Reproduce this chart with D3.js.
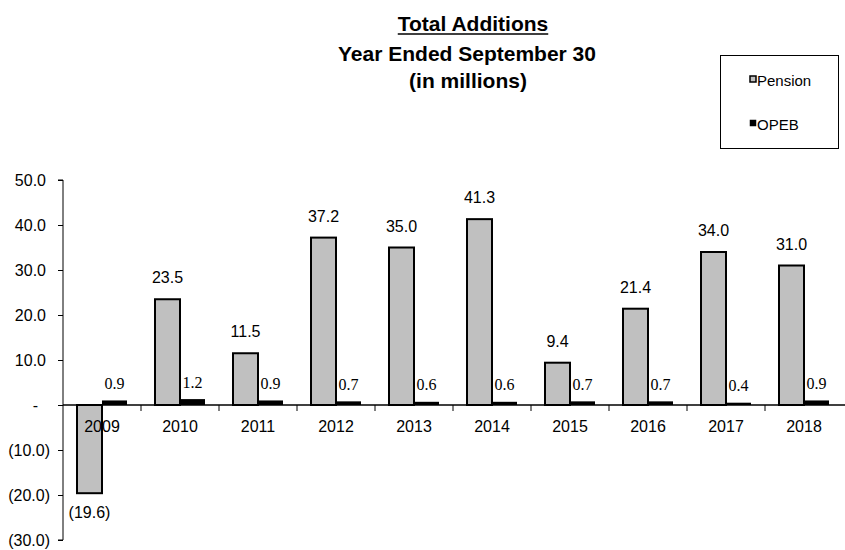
<!DOCTYPE html>
<html>
<head>
<meta charset="utf-8">
<script src="https://cdn.jsdelivr.net/npm/d3@7/dist/d3.min.js"></script>
<style>
  body { margin: 0; background: #fff; }
  svg { display: block; }
  text { font-family: "Liberation Sans", Arial, sans-serif; fill: #000; }
</style>
</head>
<body>
<svg id="chart" width="845" height="550"></svg>
<script>
const years = ["2009","2010","2011","2012","2013","2014","2015","2016","2017","2018"];
const pension = [-19.6, 23.5, 11.5, 37.2, 35.0, 41.3, 9.4, 21.4, 34.0, 31.0];
const opeb = [0.9, 1.2, 0.9, 0.7, 0.6, 0.6, 0.7, 0.7, 0.4, 0.9];
const yTicks = [50, 40, 30, 20, 10, 0, -10, -20, -30];
const seriesNames = ["Pension", "OPEB"];
const titleLines = ["Total Additions", "Year Ended September 30", "(in millions)"];

const svg = d3.select("#chart");
const mLeft = 63, mRight = 843, mTop = 180, mBottom = 540;

const x = d3.scaleBand().domain(years).range([mLeft, mRight]).paddingInner(0).paddingOuter(0);
const y = d3.scaleLinear().domain([-30, 50]).range([mBottom, mTop]);

const fmt = v => v === 0 ? "-" : (v < 0 ? "(" + d3.format(".1f")(-v) + ")" : d3.format(".1f")(v));

const inner = 14;
const bw = (x.bandwidth() - 2 * inner) / 2;

// Y axis
const yAxis = svg.append("g").attr("transform", `translate(${mLeft},0)`)
  .call(d3.axisLeft(y).tickValues(yTicks).tickSize(5).tickPadding(8).tickFormat(fmt));
yAxis.select(".domain").attr("stroke", "#000").attr("stroke-width", 1).attr("d", `M-5,${mTop}H0V${mBottom}H-5`);
yAxis.selectAll(".tick line").attr("stroke", "#000");
yAxis.selectAll(".tick text").attr("font-size", 16).attr("font-family", "Liberation Sans, Arial, sans-serif").attr("fill", "#000");
yAxis.selectAll(".tick").filter(d => d > 0).select("text").attr("x", -17);
yAxis.selectAll(".tick").filter(d => d === 0).select("text").attr("x", -25);

// Pension bars
svg.append("g").selectAll("rect").data(years).join("rect")
  .attr("x", (d) => x(d) + inner)
  .attr("y", (d, i) => y(Math.max(0, pension[i])))
  .attr("width", bw)
  .attr("height", (d, i) => Math.abs(y(pension[i]) - y(0)))
  .attr("fill", "#c0c0c0").attr("stroke", "#000").attr("stroke-width", 2);

// OPEB bars
svg.append("g").selectAll("rect").data(years).join("rect")
  .attr("x", (d) => x(d) + inner + bw)
  .attr("y", (d, i) => y(opeb[i]) - 0.5)
  .attr("width", bw)
  .attr("height", (d, i) => y(0) - y(opeb[i]) + 0.5)
  .attr("fill", "#000");

// X axis
const xAxis = svg.append("g").attr("transform", `translate(0,${y(0)})`);
xAxis.append("line").attr("x1", mLeft).attr("x2", 845).attr("stroke", "#000").attr("stroke-width", 1.5);
xAxis.selectAll("line.tk").data(years.slice(1)).join("line").attr("class", "tk")
  .attr("x1", d => x(d)).attr("x2", d => x(d)).attr("y1", 0).attr("y2", 6).attr("stroke", "#000");
xAxis.selectAll("text").data(years).join("text")
  .attr("x", d => x(d) + x.bandwidth() / 2).attr("y", 27)
  .attr("text-anchor", "middle").attr("font-size", 16).text(d => d);

// Pension labels
svg.append("g").selectAll("text").data(years).join("text")
  .attr("x", d => x(d) + inner + bw / 2)
  .attr("y", (d, i) => pension[i] >= 0 ? y(pension[i]) - 16 : y(pension[i]) + 25)
  .attr("text-anchor", "middle").attr("font-size", 16)
  .text((d, i) => fmt(pension[i]));

// OPEB labels
svg.append("g").selectAll("text").data(years).join("text")
  .attr("x", d => x(d) + inner + bw * 1.5)
  .attr("y", (d, i) => y(opeb[i]) - 12)
  .attr("text-anchor", "middle").attr("font-size", 16)
  .style("font-family", "'Liberation Serif', 'Times New Roman', serif")
  .text((d, i) => d3.format(".1f")(opeb[i]));

// Title
const title = svg.append("g");
const tys = [31, 61, 88];
const txs = [473, 467, 468];
titleLines.forEach((t, i) => {
  const tx = title.append("text").attr("x", txs[i]).attr("y", tys[i]).attr("text-anchor", "middle")
    .attr("font-size", 21).attr("font-weight", "bold").text(t);
  if (i === 0) {
    const bb = tx.node().getBBox();
    title.append("line").attr("x1", bb.x).attr("x2", bb.x + bb.width).attr("y1", 34).attr("y2", 34)
      .attr("stroke", "#000").attr("stroke-width", 1.5);
  }
});

// Legend
const lg = svg.append("g");
lg.append("rect").attr("x", 720.5).attr("y", 55.5).attr("width", 118).attr("height", 93)
  .attr("fill", "#fff").attr("stroke", "#000").attr("stroke-width", 1);
const lys = [86, 130];
seriesNames.forEach((n, i) => {
  lg.append("rect").attr("x", 750).attr("y", lys[i] - 10).attr("width", 6).attr("height", 6)
    .attr("fill", i === 0 ? "#c0c0c0" : "#000").attr("stroke", "#000").attr("stroke-width", i === 0 ? 1.5 : 0.5);
  lg.append("text").attr("x", 757).attr("y", lys[i]).attr("font-size", 15).text(n);
});
</script>
</body>
</html>
